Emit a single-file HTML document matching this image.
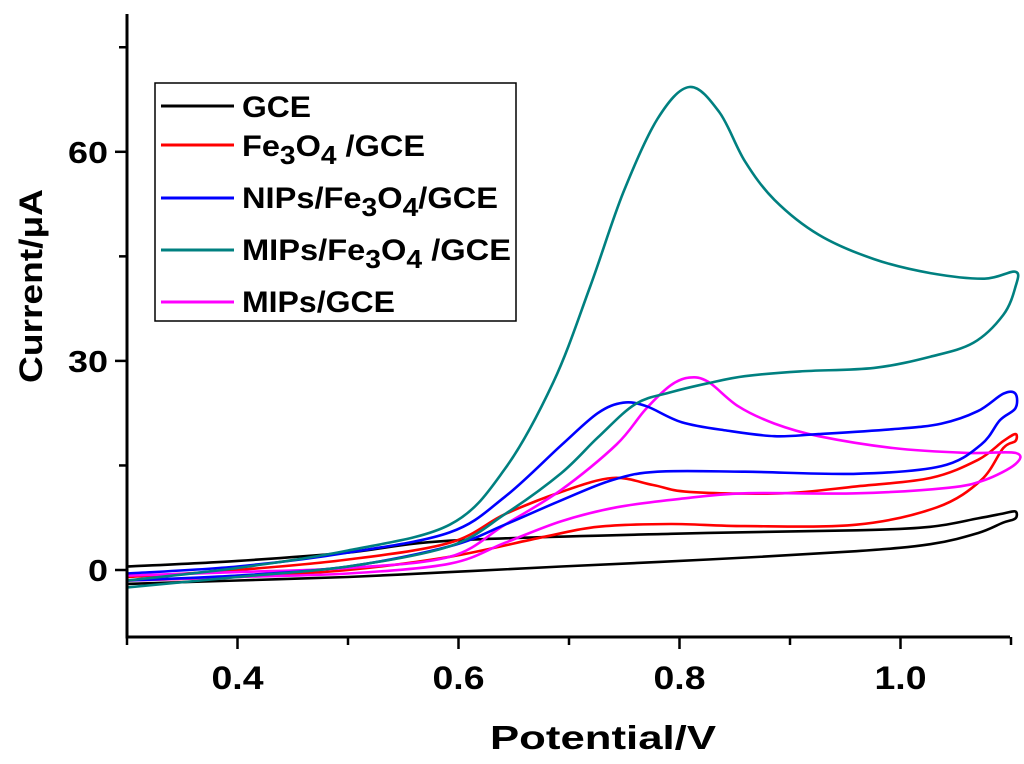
<!DOCTYPE html>
<html><head><meta charset="utf-8"><style>
html,body{margin:0;padding:0;background:#fff;}
svg{display:block;font-family:"Liberation Sans",Arial,sans-serif;font-weight:bold;}
</style></head><body>
<svg id="chart" width="1024" height="764" viewBox="0 0 1024 764">
<g id="series"></g>
<g id="axes"></g>
<g>
<rect x="155" y="83" width="361" height="238" fill="#fff" stroke="#000" stroke-width="1.5"/>
<g><line x1="161" y1="106" x2="234" y2="106" stroke="#000" stroke-width="3"/><text x="242" y="117" font-size="30" textLength="69" lengthAdjust="spacingAndGlyphs">GCE</text></g>
<g><line x1="161" y1="145" x2="234" y2="145" stroke="#ff0000" stroke-width="3"/><text x="242" y="156" font-size="30" textLength="183" lengthAdjust="spacingAndGlyphs">Fe<tspan dy="8" font-size="26">3</tspan><tspan dy="-8">O</tspan><tspan dy="8" font-size="26">4</tspan><tspan dy="-8"> /GCE</tspan></text></g>
<g><line x1="161" y1="198" x2="234" y2="198" stroke="#0000ff" stroke-width="3"/><text x="242" y="208" font-size="30" textLength="256" lengthAdjust="spacingAndGlyphs">NIPs/Fe<tspan dy="8" font-size="26">3</tspan><tspan dy="-8">O</tspan><tspan dy="8" font-size="26">4</tspan><tspan dy="-8">/GCE</tspan></text></g>
<g><line x1="161" y1="250" x2="234" y2="250" stroke="#008080" stroke-width="3"/><text x="242" y="260" font-size="30" textLength="269" lengthAdjust="spacingAndGlyphs">MIPs/Fe<tspan dy="8" font-size="26">3</tspan><tspan dy="-8">O</tspan><tspan dy="8" font-size="26">4</tspan><tspan dy="-8"> /GCE</tspan></text></g>
<g><line x1="161" y1="302" x2="234" y2="302" stroke="#ff00ff" stroke-width="3"/><text x="242" y="312" font-size="30" textLength="153" lengthAdjust="spacingAndGlyphs">MIPs/GCE</text></g>
</g>
<text x="490" y="749" font-size="33" textLength="226" lengthAdjust="spacingAndGlyphs">Potential/V</text>
<text transform="translate(42,383) rotate(-90)" font-size="32" textLength="194" lengthAdjust="spacingAndGlyphs">Current/μA</text>
</svg>
<script>
const xTicks = [0.4, 0.6, 0.8, 1.0];
const xTickLabels = ["0.4", "0.6", "0.8", "1.0"];
const xMinorTicks = [0.3, 0.5, 0.7, 0.9, 1.1];
const yTicks = [0, 30, 60];
const yTickLabels = ["0", "30", "60"];
const yMinorTicks = [15, 45, 75];

const gceV = [0.3,0.4,0.5,0.592,0.792,0.96,1.027,1.07,1.093,1.104,1.104,1.093,1.07,1.027,0.96,0.826,0.693,0.592,0.5,0.4,0.3];
const gceI = [0.5,1.3,2.5,4.2,5.2,5.7,6.2,7.4,8.1,8.4,7.4,6.8,5.3,3.7,2.7,1.5,0.5,-0.3,-1,-1.5,-2];
const feV = [0.3,0.4,0.5,0.592,0.642,0.693,0.739,0.776,0.809,0.893,0.96,1.027,1.07,1.093,1.104,1.104,1.093,1.073,1.033,0.96,0.859,0.792,0.726,0.676,0.592,0.5,0.4,0.3];
const feI = [-1,0,1.5,3.9,8,11.2,13.2,12.2,11.2,11,12,13.2,15.8,18.5,19.5,18.5,17.5,12.9,9,6.5,6.3,6.6,6.2,4.7,1.9,0,-1,-1.5];
const nipV = [0.3,0.4,0.5,0.592,0.642,0.693,0.726,0.749,0.77,0.802,0.843,0.886,0.926,0.993,1.037,1.07,1.093,1.104,1.104,1.09,1.073,1.037,0.96,0.859,0.78,0.739,0.693,0.642,0.592,0.5,0.4,0.3];
const nipI = [-0.5,0.5,2.5,5.4,10.5,17.9,22.5,24,23.5,21.2,20,19.2,19.5,20.2,21,22.8,25.3,25.3,23.2,21.5,18,14.9,13.8,14.1,14.1,12.9,10,6.5,3.4,0.5,-0.8,-1.5];
const mipFeV = [0.3,0.4,0.5,0.592,0.642,0.686,0.719,0.749,0.78,0.809,0.836,0.859,0.886,0.926,0.976,1.027,1.076,1.104,1.104,1.093,1.066,1.027,0.976,0.909,0.859,0.826,0.792,0.76,0.726,0.693,0.642,0.592,0.5,0.4,0.3];
const mipFeI = [-1.5,0.3,2.8,6.5,14.5,27,40.6,54.1,64.7,69.3,65.7,58.7,53.1,48.1,44.6,42.6,41.8,42.8,40.6,36.6,32.6,30.6,29,28.5,27.8,26.8,25.5,23.8,19,13.9,8,3.4,0.5,-1,-2.5];
const mipV = [0.3,0.4,0.5,0.592,0.642,0.693,0.743,0.769,0.792,0.809,0.826,0.853,0.886,0.926,0.993,1.06,1.104,1.104,1.076,1.043,0.96,0.859,0.8,0.743,0.693,0.642,0.592,0.5,0.4,0.3];
const mipI = [-0.8,-0.3,0.3,1.9,6.5,11.5,18,23,26.5,27.6,27,23.5,21,19.2,17.5,16.8,16.8,15.2,12.9,11.8,11,11,10.2,9,7,3.9,0.9,-0.5,-1,-1.5];

const X0 = 127, X1 = 1010, Y0 = 637, Ytop = 14;
function xs(v){ return 127 + (v - 0.3) * 1105; }
function ys(i){ return 570 - i * 6.97; }
const NS = "http://www.w3.org/2000/svg";
function mk(tag, attrs, parent){ const e = document.createElementNS(NS, tag); for (const k in attrs) e.setAttribute(k, attrs[k]); parent.appendChild(e); return e; }

const axes = document.getElementById('axes');
const yAxis = mk('line', {x1:X0, y1:Ytop, x2:X0, y2:Y0, stroke:'#000', 'stroke-width':3}, axes);


const xAxis = mk('line', {x1:X0-1.5, y1:Y0, x2:X1, y2:Y0, stroke:'#000', 'stroke-width':3}, axes);


xTicks.forEach((v, k) => {
  const t = mk('line', {x1:xs(v), y1:Y0, x2:xs(v), y2:Y0+12, stroke:'#000', 'stroke-width':2.5}, axes);
  
  
  const l = mk('text', {x:xs(v)-26, y:689, 'font-size':32, textLength:52, lengthAdjust:'spacingAndGlyphs'}, axes);
  l.textContent = xTickLabels[k];
  
  
});
xMinorTicks.forEach(v => {
  const t = mk('line', {x1:xs(v), y1:Y0, x2:xs(v), y2:Y0+8, stroke:'#000', 'stroke-width':2.5}, axes);
  
  
});
yTicks.forEach((v, k) => {
  const t = mk('line', {x1:X0-12, y1:ys(v), x2:X0, y2:ys(v), stroke:'#000', 'stroke-width':2.5}, axes);
  
  
  const w = yTickLabels[k].length * 20;
  const l = mk('text', {x:108-w, y:ys(v)+11, 'font-size':31, textLength:w, lengthAdjust:'spacingAndGlyphs'}, axes);
  l.textContent = yTickLabels[k];
  
  
});
yMinorTicks.forEach(v => {
  const t = mk('line', {x1:X0-8, y1:ys(v), x2:X0, y2:ys(v), stroke:'#000', 'stroke-width':2.5}, axes);
  
  
});

function smoothPath(V, I){
  const p = V.map((v, k) => [xs(v), ys(I[k])]);
  let d = 'M' + p[0][0].toFixed(1) + ',' + p[0][1].toFixed(1);
  for (let k = 0; k < p.length - 1; k++){
    const a = p[Math.max(k-1,0)], b = p[k], c = p[k+1], e = p[Math.min(k+2,p.length-1)];
    const c1 = [b[0] + (c[0]-a[0])/6, b[1] + (c[1]-a[1])/6];
    const c2 = [c[0] - (e[0]-b[0])/6, c[1] - (e[1]-b[1])/6];
    d += 'C' + c1[0].toFixed(1) + ',' + c1[1].toFixed(1) + ' ' + c2[0].toFixed(1) + ',' + c2[1].toFixed(1) + ' ' + c[0].toFixed(1) + ',' + c[1].toFixed(1);
  }
  return d;
}
const sg = document.getElementById('series');
function drawSeries(V, I, color, name){
  const el = mk('path', {d:smoothPath(V, I), fill:'none', stroke:color, 'stroke-width':2.6, 'stroke-linejoin':'round'}, sg);
  
  
}
drawSeries(gceV, gceI, '#000000', 'gce-curve');
drawSeries(feV, feI, '#ff0000', 'fe3o4-gce-curve');
drawSeries(mipV, mipI, '#ff00ff', 'mips-gce-curve');
drawSeries(nipV, nipI, '#0000ff', 'nips-fe3o4-gce-curve');
drawSeries(mipFeV, mipFeI, '#008080', 'mips-fe3o4-gce-curve');
</script>
</body></html>
